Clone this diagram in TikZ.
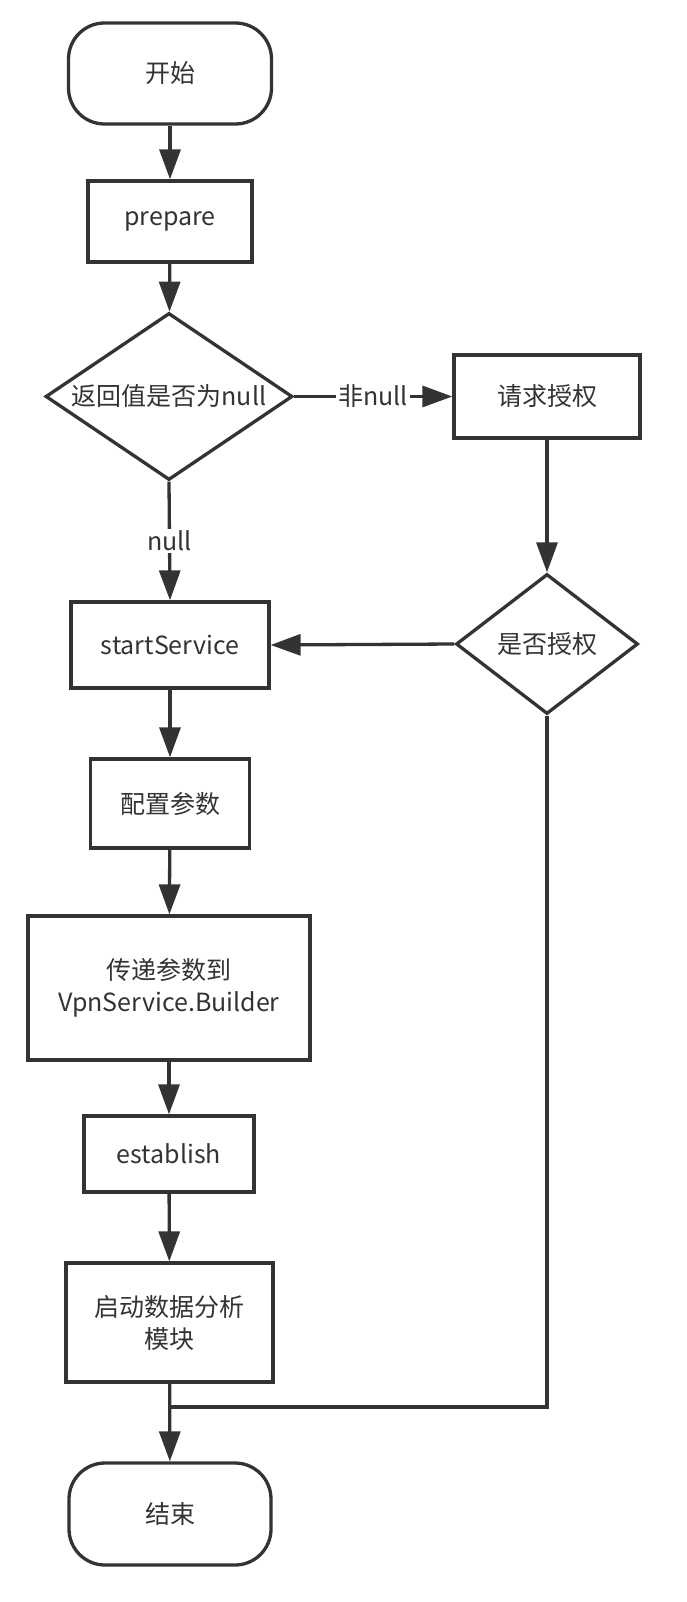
\documentclass[tikz,border=0pt]{standalone}
\usepackage{fontspec}
\setmainfont{Noto Sans CJK SC}
\usetikzlibrary{shapes.geometric,arrows.meta}
\definecolor{ink}{HTML}{333333}
\tikzset{
  box/.style={draw=ink, line width=3.3pt, rectangle, inner sep=0pt, align=center, text=ink},
  term/.style={box, rounded corners=36pt},
  dia/.style={draw=ink, line width=3.3pt, diamond, inner sep=0pt},
  txt/.style={text=ink, align=center, inner sep=0pt},
  conn/.style={draw=ink, line width=3.3pt, -{Triangle[length=30pt,width=21pt]}},
  plain/.style={draw=ink, line width=3.3pt},
  lbl/.style={fill=white, text=ink, inner sep=2pt}
}
\begin{document}
\begin{tikzpicture}[x=1pt,y=-1pt,font=\fontsize{25}{32}\selectfont]
\fill[white] (0,0) rectangle (686,1602);
\useasboundingbox (0,0) rectangle (686,1602);

\node[term, minimum width=203pt, minimum height=101pt] (start) at (170,73.5) {开始};
\node[box, minimum width=164pt, minimum height=81pt] (prep) at (170,221.5) {prepare};
\node[dia, minimum width=247pt, minimum height=167pt] (d1) at (169,396.5) {};
\node[txt] (d1t) at (d1) {返回值是否为null};
\node[box, minimum width=186pt, minimum height=83pt] (req) at (547,396.5) {请求授权};
\node[dia, minimum width=182pt, minimum height=140pt] (d2) at (547,644) {};
\node[txt] (d2t) at (d2) {是否授权};
\node[box, minimum width=198pt, minimum height=86pt] (ss) at (170,645) {startService};
\node[box, minimum width=159pt, minimum height=89pt] (cfg) at (170,803.5) {配置参数};
\node[box, minimum width=282pt, minimum height=144pt] (pass) at (169,988) {传递参数到\\VpnService.Builder};
\node[box, minimum width=170pt, minimum height=76pt] (est) at (169,1154) {establish};
\node[box, minimum width=207pt, minimum height=119pt] (ana) at (169.5,1322.5) {启动数据分析\\模块};
\node[term, minimum width=202pt, minimum height=102pt] (end) at (170,1514) {结束};
\coordinate (merge) at (170,1407);

\draw[conn] (start) -- (prep);
\draw[conn] (prep) -- (d1);
\draw[conn] (d1.east) -- node[lbl, pos=0.5] (l1) {非null} (req.west);
\draw[conn] (d1.south) -- node[lbl, pos=0.5] (l2) {null} (ss.north);
\draw[conn] (req) -- (d2.north);
\draw[conn] (d2.west) -- (ss.east);
\draw[conn] (ss) -- (cfg);
\draw[conn] (cfg) -- (pass);
\draw[conn] (pass) -- (est);
\draw[conn] (est) -- (ana);
\draw[conn] (ana) -- (end);
\draw[plain] (d2.south) |- (merge);
\end{tikzpicture}
\end{document}
